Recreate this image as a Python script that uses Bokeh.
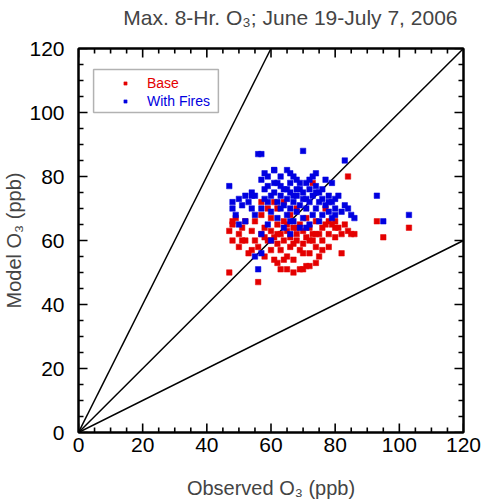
import numpy as np
from bokeh.plotting import figure
from bokeh.models import (Range1d, LinearAxis, SingleIntervalTicker, Legend, LegendItem,
                          BoxAnnotation, ColumnDataSource, Title, CustomLabelingPolicy)
from bokeh.embed import file_html
from bokeh.resources import INLINE

# ---------------- data ----------------
base_x = [47, 47, 48, 48, 49, 50, 50, 51, 52, 52, 53, 54, 55, 55, 56, 56, 57, 57, 58, 58,
          59, 59, 60, 60, 60, 61, 61, 62, 62, 62, 62, 63, 63, 63, 64, 64, 64, 65, 65, 65,
          66, 66, 66, 67, 67, 67, 68, 68, 68, 69, 69, 69, 70, 70, 70, 71, 71, 72, 72, 72,
          73, 73, 73, 74, 74, 75, 75, 76, 76, 77, 77, 78, 78, 79, 80, 80, 81, 82, 83, 84,
          85, 86, 93, 95, 103,
          58, 60, 62, 65, 67, 68, 70, 72, 74, 76, 78, 80, 82, 84, 64, 71, 74, 57, 61, 48,
          51, 54]
base_y = [50, 63, 65, 60, 67, 62, 58, 64, 60, 66, 56, 63, 60, 66, 47, 58, 62, 68, 55, 64,
          60, 70, 57, 63, 67, 54, 61, 53, 59, 65, 70, 51, 57, 62, 60, 66, 72, 51, 55, 63,
          58, 61, 68, 50, 54, 64, 60, 62, 70, 51, 57, 65, 51, 59, 63, 61, 67, 52, 56, 64,
          60, 62, 78, 58, 66, 55, 62, 60, 64, 65, 70, 58, 62, 65, 61, 66, 64, 56, 65, 80,
          62, 62, 66, 61, 64,
          61, 60, 62, 65, 59, 64, 56, 60, 62, 57, 66, 64, 62, 63, 54, 52, 53, 72, 72, 66,
          60, 57]

fires_x = [47, 48, 48, 49, 50, 50, 51, 52, 52, 53, 54, 54, 55, 55, 55, 56, 57, 56, 57, 57,
           57, 58, 58, 59, 59, 59, 60, 60, 60, 61, 61, 62, 62, 62, 63, 63, 63, 64, 64, 64,
           65, 65, 65, 66, 66, 66, 66, 67, 67, 67, 68, 68, 68, 69, 69, 69, 70, 70, 70, 70,
           71, 71, 72, 72, 72, 73, 73, 73, 74, 74, 75, 75, 75, 76, 76, 77, 77, 78, 78, 79,
           79, 80, 80, 81, 82, 83, 84, 83, 85, 86, 93, 95, 103,
           59, 61, 63, 65, 67, 69, 71, 72, 74, 76, 78, 80, 66, 71, 58, 61, 66, 68, 74, 79,
           57, 54]
fires_y = [77, 72, 70, 68, 65, 73, 71, 66, 74, 72, 70, 75, 55, 68, 74, 87, 87, 51, 56, 62,
           70, 73, 76, 65, 72, 80, 60, 69, 74, 75, 82, 67, 72, 78, 70, 74, 80, 64, 71, 76,
           68, 73, 82, 62, 70, 75, 78, 66, 72, 80, 69, 74, 76, 64, 71, 78, 88, 67, 73, 75,
           70, 78, 65, 72, 76, 68, 74, 80, 70, 77, 66, 72, 75, 68, 73, 71, 79, 69, 74, 67,
           72, 70, 73, 74, 69, 71, 70, 85, 68, 67, 74, 66, 68,
           77, 78, 77, 76, 74, 76, 73, 79, 75, 76, 72, 68, 66, 64, 81, 82, 81, 79, 81, 78,
           79, 74]

# reference lines y = k * x
ref_slopes = [2.0, 1.0, 0.5]
axis_lo, axis_hi = 0, 120
tick_interval = 20
minor_interval = 5

# ---------------- figure ----------------
FONT = "Liberation Sans"
p = figure(frame_width=385, frame_height=384, output_backend="svg", toolbar_location=None,
           x_range=Range1d(axis_lo, axis_hi), y_range=Range1d(axis_lo, axis_hi),
           min_border_left=10, min_border_right=10, min_border_top=10, min_border_bottom=10,
           x_axis_label="Observed O\u2083 (ppb)", y_axis_label="Model O\u2083 (ppb)")
p.grid.visible = False
p.outline_line_color = "black"
p.outline_line_width = 2
p.background_fill_color = None
p.border_fill_color = None

# reference lines
for k in ref_slopes:
    xe = min(axis_hi, axis_hi / k)
    p.line([0, xe], [0, k * xe], line_color="black", line_width=1.5)

# inward tick marks on all four sides (drawn in the frame)
span = axis_hi - axis_lo
major_len = span * 9 / 384.0
minor_len = span * 5 / 384.0
ticks = np.arange(axis_lo, axis_hi + minor_interval / 2, minor_interval)
lens = np.where(np.isclose(ticks % tick_interval, 0), major_len, minor_len)
lo = np.full_like(ticks, axis_lo, dtype=float)
hi = np.full_like(ticks, axis_hi, dtype=float)
tick_kw = dict(line_color="black", line_width=1.6)
p.segment(x0=ticks, y0=lo, x1=ticks, y1=lo + lens, **tick_kw)      # bottom
p.segment(x0=ticks, y0=hi, x1=ticks, y1=hi - lens, **tick_kw)      # top
p.segment(x0=lo, y0=ticks, x1=lo + lens, y1=ticks, **tick_kw)      # left
p.segment(x0=hi, y0=ticks, x1=hi - lens, y1=ticks, **tick_kw)      # right

src_b = ColumnDataSource(dict(x=base_x, y=base_y))
src_f = ColumnDataSource(dict(x=fires_x, y=fires_y))
rb = p.scatter("x", "y", source=src_b, marker="square", size=5.5,
               fill_color="#e40000", line_color="#e40000", line_width=0.5)
rf = p.scatter("x", "y", source=src_f, marker="square", size=5.5,
               fill_color="#0000e0", line_color="#0000e0", line_width=0.5)

hide_labels = CustomLabelingPolicy(code="for (const i of indices) indices.unset(i)")


def style_axis(ax, labels=True):
    ax.ticker = SingleIntervalTicker(interval=tick_interval, num_minor_ticks=4)
    ax.axis_line_color = "black"
    ax.axis_line_width = 2
    ax.major_tick_in = 0
    ax.major_tick_out = 0
    ax.minor_tick_in = 0
    ax.minor_tick_out = 0
    ax.major_label_text_font = FONT
    ax.major_label_text_color = "black"
    ax.major_label_text_font_size = "21px"
    ax.axis_label_text_font = FONT
    ax.axis_label_text_font_style = "normal"
    ax.axis_label_text_font_size = "20px"
    if not labels:
        ax.major_label_policy = hide_labels
        ax.major_label_standoff = 0


style_axis(p.xaxis[0])
style_axis(p.yaxis[0])
p.xaxis[0].major_label_standoff = 5
p.xaxis[0].axis_label_standoff = 22
p.yaxis[0].major_label_standoff = 14
p.yaxis[0].axis_label_standoff = 1

top_ax = LinearAxis()
right_ax = LinearAxis()
style_axis(top_ax, labels=False)
style_axis(right_ax, labels=False)
p.add_layout(top_ax, "above")
p.add_layout(right_ax, "right")

p.add_layout(Title(text="Max. 8-Hr. O\u2083; June 19-July 7, 2006", align="right",
                   text_font=FONT, text_font_size="21px", text_font_style="normal",
                   offset=6, standoff=6), "above")

# legend
leg_box = BoxAnnotation(left=4.7, right=43.6, bottom=100.0, top=113.4,
                        fill_alpha=0, line_color="black", line_width=1.5)
p.add_layout(leg_box)

for r, lab, col, y in [(rb, "Base", "#e40000", 341), (rf, "With Fires", "#0000e0", 323)]:
    lg = Legend(items=[LegendItem(label=lab, renderers=[r])], location=(43, y),
                padding=0, margin=0, spacing=0, label_standoff=18,
                glyph_width=8, glyph_height=8, label_height=14,
                label_text_font=FONT, label_text_font_size="14px",
                label_text_color=col, background_fill_alpha=0,
                border_line_alpha=0)
    p.add_layout(lg)

open("out.html", "w").write(file_html(p, INLINE))
